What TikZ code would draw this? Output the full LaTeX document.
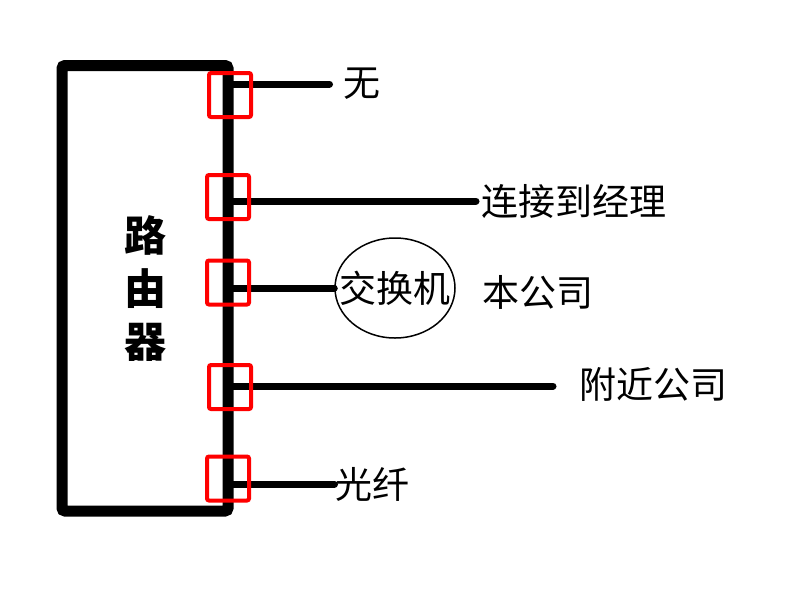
\documentclass[tikz,border=0pt]{standalone}
\usepackage{fontspec}
\newfontfamily\cjk{Noto Sans CJK SC}
\usetikzlibrary{shapes.geometric}
\tikzset{
  wire/.style={line width=7pt,line cap=round},
  port/.style={draw=red,line width=4pt,rounded corners=2pt,minimum width=42pt,minimum height=44pt,inner sep=0pt},
  lbl/.style={anchor=west,inner sep=0pt,font=\cjk\fontsize{37}{40}\selectfont}
}
\begin{document}
\begin{tikzpicture}[x=1pt,y=-1pt]
\useasboundingbox (0,0) rectangle (800,600);
% router
\node[draw,line width=11pt,rounded corners=3pt,minimum width=166pt,minimum height=445.5pt,inner sep=0pt,
  align=center,font=\cjk\bfseries\fontsize{42}{53}\selectfont] (rtr) at (145,288.25) {路\\由\\器};
% ends of the wires
\coordinate (e1) at (329.5,84);
\coordinate (e2) at (476,201);
\coordinate (e4) at (553,386);
\coordinate (e5) at (334.5,484);
% switch
\node[draw,ellipse,line width=1.5pt,minimum width=120pt,minimum height=100pt,inner xsep=-20pt,inner ysep=0pt,
  font=\cjk\fontsize{37}{40}\selectfont] (sw) at (395,288) {交换机};
\draw[wire] (e1 -| rtr.east) -- (e1);
\draw[wire] (e2 -| rtr.east) -- (e2);
\draw[wire] (sw.west -| rtr.east) -- (sw.west);
\draw[wire] (e4 -| rtr.east) -- (e4);
\draw[wire] (e5 -| rtr.east) -- (e5);
% ports
\node[port] (p1) at (230,95) {};
\node[port] (p2) at (228,197) {};
\node[port] (p3) at (228,282.5) {};
\node[port] (p4) at (230,387) {};
\node[port] (p5) at (228,478.5) {};
% labels
\node[lbl] (l1) at (343,84) {无};
\node[lbl] (l2) at (481,201) {连接到经理};
\node[lbl] (l3) at (482,292) {本公司};
\node[lbl] (l4) at (579,384) {附近公司};
\node[lbl] (l5) at (335,484) {光纤};
\end{tikzpicture}
\end{document}
